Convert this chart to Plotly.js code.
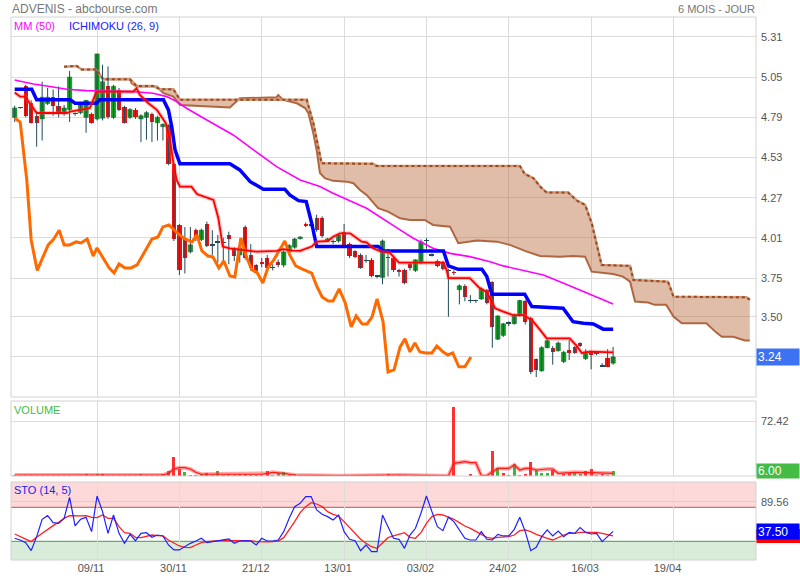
<!DOCTYPE html>
<html><head><meta charset="utf-8">
<script src="https://cdn.plot.ly/plotly-3.0.1.min.js"></script>
<style>html,body{margin:0;padding:0;background:#fff}#chart{width:800px;height:580px}</style>
</head><body><div id="chart"></div>
<script>
// ---------- DATA ----------
const dateTicks = [15, 30, 45, 60, 75, 90, 105, 120];
const dateLabels = ['09/11', '30/11', '21/12', '13/01', '03/02', '24/02', '16/03', '19/04'];
const priceTicks = [5.31, 5.05, 4.79, 4.53, 4.27, 4.01, 3.75, 3.50, 3.24];
// the 3.24 grid label is hidden under the current-price box, as in the reference
const priceTickText = ['5.31', '5.05', '4.79', '4.53', '4.27', '4.01', '3.75', '3.50', ''];

const open = [
 4.79,4.85,4.99,4.88,4.80,4.78,4.88,4.92,4.865,4.82,
 4.84,4.81,4.82,4.79,4.81,4.78,4.785,4.99,4.79,4.97,
 4.855,4.79,4.84,4.78,4.79,4.81,4.755,4.73,4.74,4.49,
 4.095,4.00,3.92,4.06,4.00,4.10,3.96,3.98,3.98,4.03,
 3.945,3.90,4.08,3.90,3.835,3.855,3.88,3.82,3.855,3.835,
 3.92,3.95,4.005,4.10,4.09,4.14,4.14,3.995,3.99,3.99,
 4.05,3.97,3.925,3.90,3.86,3.87,3.76,3.755,3.88,3.88,
 3.80,3.80,3.84,3.80,3.85,3.99,3.90,3.86,3.855,3.80,
 3.79,3.675,3.70,3.60,3.60,3.615,3.675,3.725,3.355,3.38,
 3.455,3.455,3.51,3.605,3.49,3.225,3.15,3.30,3.30,3.28,
 3.21,3.285,3.305,3.33,3.23,3.27,3.26,3.176,3.235,3.20];
const high = [
 4.865,4.855,5.00,4.90,4.83,5.02,4.98,4.97,4.99,4.87,
 5.09,4.82,4.88,4.90,4.82,5.20,5.13,5.12,5.00,4.98,
 4.865,4.85,4.85,4.81,4.83,4.82,4.80,4.75,4.745,4.50,
 4.10,4.08,4.08,4.07,4.07,4.115,4.06,4.03,4.01,4.05,
 3.95,4.00,4.09,3.97,3.84,3.88,3.90,3.84,3.87,3.93,
 3.97,4.01,4.02,4.11,4.10,4.16,4.15,4.01,4.00,4.04,
 4.10,3.98,3.93,3.91,3.90,3.88,3.77,4.00,3.94,3.89,
 3.81,3.81,3.85,3.87,4.00,4.01,3.91,3.87,3.86,3.81,
 3.80,3.71,3.71,3.64,3.61,3.69,3.68,3.73,3.51,3.46,
 3.47,3.52,3.61,3.61,3.50,3.23,3.31,3.36,3.31,3.34,
 3.28,3.35,3.31,3.335,3.29,3.28,3.27,3.20,3.29,3.305];
const low = [
 4.76,4.845,4.79,4.75,4.60,4.64,4.87,4.80,4.79,4.80,
 4.76,4.80,4.81,4.69,4.75,4.77,4.77,4.78,4.78,4.83,
 4.75,4.78,4.78,4.63,4.645,4.63,4.64,4.64,4.48,3.99,
 3.77,3.78,3.91,3.99,3.99,3.95,3.90,3.85,3.86,3.84,
 3.86,3.85,3.87,3.80,3.78,3.82,3.81,3.80,3.82,3.82,
 3.91,3.94,4.00,4.08,4.08,4.05,4.01,3.99,3.97,3.98,
 3.95,3.88,3.88,3.81,3.85,3.755,3.75,3.71,3.76,3.79,
 3.76,3.71,3.80,3.79,3.84,3.94,3.89,3.82,3.80,3.50,
 3.77,3.58,3.60,3.59,3.59,3.61,3.58,3.30,3.35,3.37,
 3.44,3.45,3.50,3.45,3.13,3.11,3.145,3.295,3.19,3.275,
 3.20,3.22,3.26,3.305,3.22,3.16,3.25,3.175,3.175,3.19];
const close = [
 4.85,4.85,4.80,4.755,4.755,4.92,4.92,4.865,4.82,4.85,
 5.05,4.81,4.87,4.90,4.755,5.20,5.02,4.79,4.99,4.84,
 4.755,4.84,4.79,4.80,4.82,4.76,4.79,4.745,4.49,4.00,
 3.80,3.88,3.965,4.00,4.06,3.955,3.965,3.985,3.977,4.00,
 3.893,3.945,3.88,3.816,3.783,3.842,3.816,3.816,3.835,3.919,
 3.96,4.003,4.016,4.09,4.094,4.06,4.02,4.003,3.984,4.029,
 3.955,3.893,3.887,3.816,3.861,3.764,3.758,3.99,3.88,3.803,
 3.79,3.719,3.816,3.868,3.985,3.99,3.895,3.829,3.81,3.796,
 3.783,3.70,3.628,3.602,3.602,3.68,3.59,3.434,3.505,3.454,
 3.454,3.505,3.605,3.467,3.14,3.156,3.30,3.345,3.275,3.33,
 3.27,3.266,3.266,3.311,3.273,3.253,3.262,3.176,3.176,3.24];

const volume = [
 1.2,0.8,1.5,1.0,1.3,1.6,0.9,1.2,1.4,0.7,
 1.8,0.6,1.2,2.6,1.0,3.2,2.2,1.9,1.4,1.0,
 1.3,0.8,1.0,2.6,1.2,0.9,0.8,2.0,6.5,24.6,
 9.2,4.8,0.8,1.0,2.6,3.9,1.0,6.5,1.2,2.0,
 1.5,2.2,2.0,1.6,1.2,1.8,6.5,1.3,4.0,5.0,
 1.5,2.0,1.0,1.2,0.8,1.5,1.0,0.6,0.8,0.5,
 0.6,0.8,0.5,0.9,0.5,1.2,0.8,1.5,2.6,1.0,
 0.8,1.0,0.5,0.8,1.2,0.8,0.5,0.5,0.6,0.8,
 91.3,0.5,0.6,2.0,0.3,0.5,0.8,32.9,11.0,4.4,
 1.0,15.8,1.3,2.6,18.0,7.9,4.4,4.4,7.9,0.5,
 2.6,3.5,5.7,2.6,6.6,9.2,0.8,2.6,1.3,6.0];
const volMAx = [0,27,28,29,30,31,32,33,34,45,46,47,49,51,59,66,70,78,79,80,81,82,83,84,85,86,87,88,90,91,92,93,94,95,97,98,99,102,105,109];
const volMAy = [1.3,1.3,3.5,9.2,10.9,10.9,9.2,4.9,2.3,2.3,3.5,4.8,3.5,1.3,0.4,1.3,1.3,0.4,0.4,16.7,17.5,18.9,17.5,17.5,0.4,0.4,5.7,10,10,14.5,7.9,10,10,7.9,9.2,9.2,3.5,4.9,4.4,3.5];

const tenkanX = [0,1,1.9,3.1,4,9.5,10.1,11.9,13.7,14.9,21.6,22.2,22.8,24.3,25.9,27.5,28.3,28.9,29.5,30.1,32.2,33.2,35.3,36.2,37.1,37.9,39.2,42.3,44.1,47.7,48.9,50.7,52,53.2,54.1,55,57.1,58,59.3,61.1,62,63.2,64.1,65.3,66.8,68.3,70,78.1,78.7,79,82.9,84.7,86,87.5,89,90.8,92.6,94.2,95.7,96.9,101.1,102.4,103.3,104.8,109];
const tenkanY = [4.95,4.924,4.924,4.86,4.818,4.818,4.827,4.838,4.85,4.956,4.956,4.978,4.935,4.883,4.838,4.754,4.644,4.495,4.385,4.342,4.342,4.294,4.267,4.256,4.137,3.954,3.943,3.932,3.921,3.926,3.937,3.928,3.926,3.943,3.954,3.986,3.99,4.018,4.04,4.04,4.018,3.986,3.982,3.943,3.921,3.915,3.85,3.85,3.80,3.75,3.75,3.685,3.66,3.555,3.533,3.51,3.51,3.48,3.415,3.36,3.36,3.31,3.265,3.275,3.27];

const kijunX = [0,3.1,4,10.1,11,14.9,15.5,27.1,28,28.6,29.2,30.1,39.2,41,42.9,45.3,49.2,50.1,51.7,53.1,54.1,55,66.2,67.1,78.1,79,80.8,85.1,86,86.9,92.9,94.2,99.9,101.7,103.6,105.4,107.2,109];
const kijunY = [4.972,4.972,4.903,4.903,4.881,4.881,4.903,4.903,4.838,4.73,4.58,4.489,4.489,4.45,4.374,4.325,4.325,4.288,4.251,4.245,4.105,3.954,3.954,3.926,3.926,3.829,3.807,3.807,3.76,3.646,3.646,3.566,3.555,3.468,3.458,3.454,3.42,3.42];

const mm50X = [0,3.4,6.4,9.5,13.1,21.6,25.2,27.7,29.5,31.3,35,39.8,43.5,47.7,52,55.6,58,60.5,64.1,70.2,72.6,76.2,79.3,82.9,86.6,89,92.6,96.3,100,103.6,106.6,109];
const mm50Y = [5.032,5.006,4.989,4.972,4.963,4.956,4.946,4.924,4.892,4.849,4.773,4.676,4.579,4.471,4.385,4.342,4.299,4.26,4.202,4.062,4.008,3.943,3.91,3.889,3.856,3.829,3.80,3.77,3.717,3.663,3.62,3.583];

const chikouX = [0,1,2.2,3,4.1,6.1,7,8.1,9,10,11.2,12.1,13.2,14.3,15,16.1,17.2,18.1,19,20.1,21.2,22.3,23.7,25,26.1,27,28.1,29.6,31,32.3,33.2,34.1,35.2,36.1,37.2,38.1,39.2,40.1,41.2,42.3,43.2,44.1,45.2,46.1,47.2,48.1,49.2,50.1,51.2,52.3,53.2,54.1,55,56,57.1,58,59.1,60.2,61.3,62.2,63.3,64.2,65.1,66,67.1,68,69.1,70.2,71.1,72,72.9,73.8,74.9,76,76.9,78,78.9,79.8,80.9,82,83.1];
const chikouY = [4.786,4.76,4.385,3.997,3.80,3.965,3.997,4.06,3.965,3.965,3.984,3.977,4.003,3.893,3.945,3.88,3.816,3.783,3.842,3.816,3.816,3.835,3.919,4.003,4.016,4.081,4.094,4.042,4.003,3.984,4.029,3.926,3.893,3.887,3.816,3.861,3.764,3.758,4.01,3.88,3.803,3.79,3.719,3.816,3.868,3.926,3.99,3.90,3.829,3.81,3.796,3.783,3.70,3.628,3.602,3.602,3.68,3.59,3.434,3.505,3.454,3.454,3.499,3.615,3.467,3.143,3.156,3.305,3.357,3.273,3.331,3.273,3.266,3.266,3.311,3.273,3.253,3.266,3.176,3.176,3.24];

const spanAX = [9,11.3,12.2,14.9,15.8,16.1,21,22.2,25.2,26.5,28.9,30.1,53.2,54.4,55.9,65.3,65.9,92,92.9,94.5,95.7,96.9,100.8,102.4,103.9,105.1,106.9,112.1,112.7,119,120,133.3,133.9];
const spanAY = [5.118,5.122,5.10,5.10,5.053,5.036,5.036,4.993,4.993,4.972,4.972,4.903,4.903,4.752,4.493,4.489,4.476,4.476,4.424,4.396,4.342,4.303,4.303,4.252,4.223,4.105,3.835,3.829,3.738,3.727,3.63,3.626,3.61];
const spanBX = [15,16.1,21,21.3,22.2,25.9,27.1,28.9,30.1,35.6,39.2,41,47.7,48,48.9,51.4,52.9,53.5,54.4,55,55.6,56.5,58,60.5,61.7,62.9,64.1,66.2,68,70.2,72,74.7,76.2,79.3,80.8,84.2,87.8,90.2,91.7,93.3,95.7,99.3,101.7,103.9,105.1,107.5,109,110.8,112.1,113,115.4,116.6,118.7,120,121.5,126,127.6,128.8,130.9,133,133.9];
const spanBY = [5.084,5.036,5.036,5.01,4.989,4.989,4.946,4.924,4.87,4.86,4.853,4.913,4.92,4.935,4.903,4.881,4.85,4.817,4.687,4.579,4.43,4.396,4.379,4.374,4.364,4.32,4.288,4.202,4.18,4.137,4.126,4.126,4.094,4.083,3.976,3.993,3.986,3.965,3.943,3.921,3.893,3.889,3.893,3.889,3.792,3.785,3.777,3.76,3.727,3.598,3.592,3.577,3.577,3.501,3.458,3.458,3.404,3.371,3.371,3.346,3.346];

const stoK = [
 25.4,22.4,17.7,3.6,28.3,58.9,65.3,53.0,51.8,60.6,
 97.7,47.1,58.9,62.4,37.1,100,72.4,34.2,66.5,34.2,
 16.5,32.4,21.2,34.2,35.3,27.1,31.2,29.5,13.6,4.8,
 4.8,10.6,16.5,20.6,25.4,17.7,19.5,20.6,22.4,24.2,
 16.5,20.6,21.2,20.6,13.6,25.4,20.6,20.6,22.4,37.1,
 60.6,81.2,87.1,98.9,98.9,75.3,67.7,63.6,57.7,66.5,
 37.1,23.6,21.2,3.6,13.6,1.8,1.8,66.5,45.9,25.4,
 23.6,7.7,31.2,43.0,69.5,100,72.4,45.9,38.9,62.4,
 54.8,40.1,25.4,22.4,22.4,37.1,23.6,22.4,32.4,29.5,
 29.5,41.2,62.4,37.1,3.6,9.5,28.3,40.1,29.5,38.3,
 28.3,35.9,34.2,44.2,35.9,33.0,34.2,19.5,28.3,37.5];
const stoD = [
 33.0,28.3,23.0,19.5,27.1,34.2,40.1,47.7,53.6,60.6,
 65.3,64.8,64.8,65.3,62.4,61.8,66.5,60.6,60.6,45.9,
 35.3,34.2,27.1,26.5,28.3,31.2,30.1,29.5,22.4,16.5,
 11.8,9.5,8.9,13.6,17.7,19.5,20.6,21.2,21.2,21.2,
 21.2,21.2,21.2,21.2,19.5,18.9,18.9,19.5,20.6,26.5,
 40.1,54.8,70.6,81.2,88.3,85.9,81.2,72.4,67.7,64.8,
 54.8,44.2,35.3,23.6,16.5,10.6,7.7,16.5,26.5,29.5,
 33.0,35.3,27.1,25.4,35.3,51.8,63.6,67.7,66.5,62.4,
 58.9,53.0,47.1,43.0,37.1,32.4,27.1,25.4,27.1,28.3,
 28.3,31.2,38.9,40.1,37.1,32.4,28.3,25.4,22.4,27.1,
 31.2,34.2,34.2,35.9,35.9,35.3,35.9,34.2,31.2,29.5];
const stoLevels = [20, 80];
const lastPrice = 3.24, lastVolume = 6.00, lastK = 37.50, lastD = 29.5;

// ---------- BUILD ----------
const days = close.map((_, i) => i);
const WICK = '#1f4b5a';
const wickX = [], wickY = [];
days.forEach(i => { wickX.push(i, i, null); wickY.push(low[i], high[i], null); });

function bodies(filter) {
  const xs = [], b = [], h = [];
  days.forEach(i => {
    if (filter(i)) {
      xs.push(i);
      b.push(Math.min(open[i], close[i]));
      h.push(Math.max(Math.abs(close[i] - open[i]), 0.009));
    }
  });
  return {xs, b, h};
}
const flatT = 0.007;
const up = bodies(i => close[i] - open[i] >= flatT);
const dn = bodies(i => open[i] - close[i] >= flatT);
const fl = bodies(i => Math.abs(close[i] - open[i]) < flatT);

const volColors = days.map(i => (i === 0 || close[i] >= close[i - 1]) ? '#3cb83c' : '#ff3030');

// cloud polygon
const polyX = [], polyY = [];
spanAX.forEach((x, k) => { if (x >= spanBX[0] - 0.1) { polyX.push(x); polyY.push(spanAY[k]); } });
for (let k = spanBX.length - 1; k >= 0; k--) { polyX.push(spanBX[k]); polyY.push(spanBY[k]); }

const traces = [
  {type:'scatter', x:polyX, y:polyY, fill:'toself', fillcolor:'rgba(185,105,60,0.44)', line:{width:0}, mode:'lines', xaxis:'x', yaxis:'y'},
  {type:'scatter', x:spanBX, y:spanBY, mode:'lines', line:{color:'#b0663f', width:2}, xaxis:'x', yaxis:'y'},
  {type:'scatter', x:spanAX, y:spanAY, mode:'lines', line:{color:'#cf9a7a', width:2.5}, xaxis:'x', yaxis:'y'},
  {type:'scatter', x:spanAX, y:spanAY, mode:'lines', line:{color:'#9a4820', width:2, dash:'dot'}, xaxis:'x', yaxis:'y'},
  {type:'scatter', x:wickX, y:wickY, mode:'lines', line:{color:WICK, width:1}, xaxis:'x', yaxis:'y'},
  {type:'bar', x:up.xs, y:up.h, base:up.b, width:0.78, marker:{color:'#109c20', line:{color:'#0b7016', width:0.6}}, xaxis:'x', yaxis:'y'},
  {type:'bar', x:dn.xs, y:dn.h, base:dn.b, width:0.78, marker:{color:'#ee1111', line:{width:0}}, xaxis:'x', yaxis:'y'},
  {type:'bar', x:fl.xs, y:fl.h, base:fl.b, width:0.9, marker:{color:WICK, line:{width:0}}, xaxis:'x', yaxis:'y'},
  {type:'scatter', x:mm50X, y:mm50Y, mode:'lines', line:{color:'#ff00ff', width:1.6}, xaxis:'x', yaxis:'y'},
  {type:'scatter', x:chikouX, y:chikouY, mode:'lines', line:{color:'#ff6a00', width:3}, xaxis:'x', yaxis:'y'},
  {type:'scatter', x:kijunX, y:kijunY, mode:'lines', line:{color:'#0000ff', width:3.5}, xaxis:'x', yaxis:'y'},
  {type:'scatter', x:tenkanX, y:tenkanY, mode:'lines', line:{color:'rgba(255,80,80,0.35)', width:4}, xaxis:'x', yaxis:'y'},
  {type:'scatter', x:tenkanX, y:tenkanY, mode:'lines', line:{color:'#ff0000', width:1.8}, xaxis:'x', yaxis:'y'},
  // volume
  {type:'bar', x:days, y:volume, width:0.55, marker:{color:volColors, line:{width:0}}, xaxis:'x', yaxis:'y2'},
  {type:'scatter', x:volMAx, y:volMAy, mode:'lines', line:{color:'rgba(255,60,60,0.45)', width:4}, xaxis:'x', yaxis:'y2'},
  {type:'scatter', x:volMAx, y:volMAy, mode:'lines', line:{color:'#ff1a1a', width:1.2}, xaxis:'x', yaxis:'y2'},
  // stochastic
  {type:'scatter', x:days, y:stoD, mode:'lines', line:{color:'#ff2020', width:1.3}, xaxis:'x', yaxis:'y3'},
  {type:'scatter', x:days, y:stoK, mode:'lines', line:{color:'#2020ff', width:1.2}, xaxis:'x', yaxis:'y3'}
];

const H = 543, T = 17;
const py = px => (560 - px) / H;       // paper y from pixel
const pxx = px => (px - 11) / 745;     // paper x from pixel
const FONT = 'Arial, "Liberation Sans", sans-serif';
const frame = (ref) => ({type:'rect', xref:'paper', yref:ref, x0:0, x1:1, y0:0, y1:1, line:{color:'#d2d2d2', width:1}, fillcolor:'rgba(0,0,0,0)', layer:'above'});
const stoUnitsPerPx = (124.7 + 12.9) / 78;

const layout = {
  width:800, height:580,
  margin:{l:11, r:44, t:T, b:20},
  paper_bgcolor:'#fff', plot_bgcolor:'rgba(0,0,0,0)',
  showlegend:false, hovermode:false, barmode:'overlay', bargap:0,
  font:{family:FONT, size:11, color:'#555'},
  xaxis:{range:[-0.674, 135.03], anchor:'y3', tickvals:dateTicks, ticktext:dateLabels,
         showgrid:true, gridcolor:'#dcdcdc', gridwidth:1, zeroline:false, showline:false,
         ticks:'', ticklabelshift:-6, tickfont:{size:11, color:'#555', family:FONT}, fixedrange:true},
  yaxis:{domain:[py(397), 1], range:[2.981, 5.439], side:'right', anchor:'x',
         tickvals:priceTicks, ticktext:priceTickText, showgrid:true, gridcolor:'#dcdcdc', zeroline:false,
         ticks:'', ticklabelstandoff:4, tickfont:{size:11, color:'#555', family:FONT}},
  yaxis2:{domain:[py(476), py(401)], range:[0, 98.75], side:'right', anchor:'x',
         tickvals:[72.42], ticktext:['72.42'], showgrid:true, gridcolor:'#dcdcdc', zeroline:false,
         ticks:'', ticklabelstandoff:4, tickfont:{size:11, color:'#555', family:FONT}},
  yaxis3:{domain:[0, py(482)], range:[-12.9, 124.7], side:'right', anchor:'x',
         tickvals:[89.56], ticktext:['89.56'], showgrid:true, gridcolor:'#e2c8c8', zeroline:false,
         ticks:'', ticklabelstandoff:4, tickfont:{size:11, color:'#555', family:FONT}},
  shapes:[
    {type:'rect', xref:'paper', yref:'y3', x0:0, x1:1, y0:stoLevels[1], y1:124.7, fillcolor:'#fdd9d9', line:{width:0}, layer:'below'},
    {type:'rect', xref:'paper', yref:'y3', x0:0, x1:1, y0:-12.9, y1:stoLevels[0], fillcolor:'#d9ebd9', line:{width:0}, layer:'below'},
    {type:'line', xref:'paper', yref:'y3', x0:0, x1:1, y0:stoLevels[1], y1:stoLevels[1], line:{color:'#e06a6a', width:1.2}, layer:'between'},
    {type:'line', xref:'paper', yref:'y3', x0:0, x1:1, y0:stoLevels[0], y1:stoLevels[0], line:{color:'#6aaa6a', width:1.2}, layer:'between'},
    // %D marker box (mostly hidden under the %K box, as in the reference)
    {type:'rect', xref:'paper', yref:'y3', x0:1, x1:1 + 44 / 745,
     y0:lastD - 7 * stoUnitsPerPx, y1:lastD + 7 * stoUnitsPerPx, fillcolor:'#ff0000', line:{width:0}, layer:'above'},
    frame('y domain'), frame('y2 domain'), frame('y3 domain')
  ],
  annotations:[
    {xref:'paper', yref:'paper', x:pxx(10), y:py(9), xanchor:'left', yanchor:'middle', showarrow:false,
     text:'ADVENIS - abcbourse.com', font:{size:12, color:'#777', family:FONT}},
    {xref:'paper', yref:'paper', x:pxx(757), y:py(9), xanchor:'right', yanchor:'middle', showarrow:false,
     text:'6 MOIS - JOUR', font:{size:11, color:'#777', family:FONT}},
    {xref:'paper', yref:'paper', x:pxx(12), y:py(26), xanchor:'left', yanchor:'middle', showarrow:false,
     text:'MM (50)', font:{size:11, color:'#ff00ff', family:FONT}},
    {xref:'paper', yref:'paper', x:pxx(67), y:py(26), xanchor:'left', yanchor:'middle', showarrow:false,
     text:'ICHIMOKU (26, 9)', font:{size:11, color:'#2020ff', family:FONT}},
    {xref:'paper', yref:'paper', x:pxx(12), y:py(410), xanchor:'left', yanchor:'middle', showarrow:false,
     text:'VOLUME', font:{size:11, color:'#44bb44', family:FONT}},
    {xref:'paper', yref:'paper', x:pxx(12), y:py(490), xanchor:'left', yanchor:'middle', showarrow:false,
     text:'STO (14, 5)', font:{size:11, color:'#2020ee', family:FONT}},
    {xref:'paper', yref:'y', x:1, y:lastPrice, xanchor:'left', yanchor:'middle', showarrow:false,
     text:lastPrice.toFixed(2), bgcolor:'#3d72f2', width:40, height:14, borderpad:1, align:'left',
     font:{size:12, color:'#fff', family:FONT}},
    {xref:'paper', yref:'y2', x:1, y:lastVolume, xanchor:'left', yanchor:'middle', showarrow:false,
     text:lastVolume.toFixed(2), bgcolor:'#44bb44', width:40, height:12, borderpad:1, align:'left',
     font:{size:12, color:'#fff', family:FONT}},
    {xref:'paper', yref:'y3', x:1, y:lastK, xanchor:'left', yanchor:'middle', showarrow:false,
     text:lastK.toFixed(2), bgcolor:'#0000ff', width:40, height:13, borderpad:1, align:'left',
     font:{size:12, color:'#fff', family:FONT}}
  ]
};

Plotly.newPlot('chart', traces, layout, {staticPlot:true, displayModeBar:false});
</script></body></html>
